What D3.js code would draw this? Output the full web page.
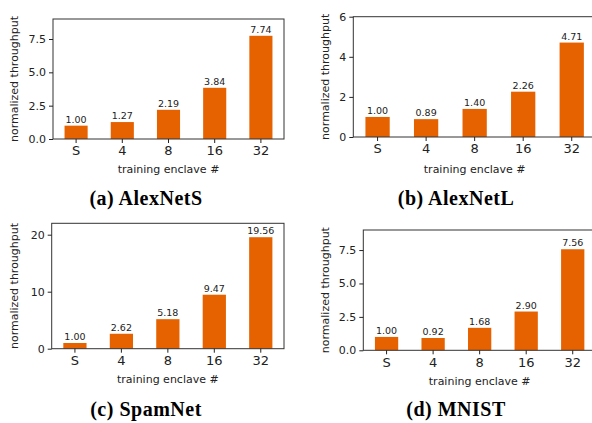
<!DOCTYPE html>
<html>
  <head>
    <meta charset="utf-8">
    <script src="https://unpkg.com/d3@7/dist/d3.min.js"></script>
    <style>
      body {
        margin: 0;
        background: #fff;
      }

      text {
        font-family: 'DejaVu Sans', sans-serif;
        fill: #222;
      }

      .caption {
        font-family: 'Liberation Serif', serif;
        font-weight: bold;
        font-size: 20px;
        letter-spacing: 0.5px;
        text-anchor: middle;
        fill: #000;
      }

      .bar-label {
        font-size: 9.5px;
        text-anchor: middle;
      }

      .axis-label {
        font-size: 11px;
        text-anchor: middle;
      }
    </style>
  </head>
  <body>
    <script>
      const categories = ['S', '4', '8', '16', '32'];

      const alexNetS = [1.00, 1.27, 2.19, 3.84, 7.74];
      const alexNetL = [1.00, 0.89, 1.40, 2.26, 4.71];
      const spamNet = [1.00, 2.62, 5.18, 9.47, 19.56];
      const mnist = [1.00, 0.92, 1.68, 2.90, 7.56];

      const captions = ['(a) AlexNetS', '(b) AlexNetL', '(c) SpamNet', '(d) MNIST'];
      const yTicksA = [0, 2.5, 5, 7.5];
      const yTicksB = [0, 2, 4, 6];
      const yTicksC = [0, 10, 20];
      const yTicksD = [0, 2.5, 5, 7.5];

      const width = 592;
      const height = 423;
      const barColor = '#e66100';

      // layout of each small plot (frame box + y limit)
      const panels = [
        {values: alexNetS, caption: captions[0], ticks: yTicksA, yMax: 9, fmt: '.1f',
          left: 53, right: 284, top: 19, bottom: 139, yLabX: 17.5, xLabDy: 34, capX: 146, capY: 205},
        {values: alexNetL, caption: captions[1], ticks: yTicksB, yMax: 6, fmt: 'd',
          left: 353.3, right: 596, top: 16.7, bottom: 137, yLabX: 328.5, xLabDy: 36, capX: 456, capY: 205},
        {values: spamNet, caption: captions[2], ticks: yTicksC, yMax: 22, fmt: 'd',
          left: 51.7, right: 284, top: 223.3, bottom: 348.7, yLabX: 17.5, xLabDy: 34, capX: 146, capY: 416},
        {values: mnist, caption: captions[3], ticks: yTicksD, yMax: 9, fmt: '.1f',
          left: 363.3, right: 596, top: 230, bottom: 350.3, yLabX: 328.5, xLabDy: 35, capX: 456, capY: 416}
      ];

      const svg = d3.select('body')
        .append('svg')
        .attr('width', width)
        .attr('height', height);

      panels.forEach(p => {
        const x = d3.scaleBand()
          .domain(categories)
          .range([p.left, p.right])
          .paddingInner(0.5)
          .paddingOuter(0.25);

        const y = d3.scaleLinear()
          .domain([0, p.yMax])
          .range([p.bottom, p.top]);

        const g = svg.append('g');

        g.selectAll('rect.bar')
          .data(p.values)
          .enter()
          .append('rect')
          .attr('class', 'bar')
          .attr('x', (d, i) => x(categories[i]))
          .attr('y', d => y(d))
          .attr('width', x.bandwidth())
          .attr('height', d => y(0) - y(d))
          .attr('fill', barColor);

        g.selectAll('text.bar-label')
          .data(p.values)
          .enter()
          .append('text')
          .attr('class', 'bar-label')
          .attr('x', (d, i) => x(categories[i]) + x.bandwidth() / 2)
          .attr('y', d => y(d) - 3)
          .text(d => d.toFixed(2));

        // frame
        g.append('rect')
          .attr('x', p.left)
          .attr('y', p.top)
          .attr('width', p.right - p.left)
          .attr('height', p.bottom - p.top)
          .attr('fill', 'none')
          .attr('stroke', '#333')
          .attr('stroke-width', 1);

        const yAxis = g.append('g')
          .attr('transform', `translate(${p.left},0)`)
          .call(d3.axisLeft(y).tickValues(p.ticks).tickFormat(d3.format(p.fmt)).tickSize(4).tickPadding(3));
        yAxis.select('.domain').remove();
        yAxis.selectAll('text').style('font-size', '11px').attr('fill', '#222');
        yAxis.selectAll('line').attr('stroke', '#222');

        const xAxis = g.append('g')
          .attr('transform', `translate(0,${p.bottom})`)
          .call(d3.axisBottom(x).tickSize(4).tickPadding(3));
        xAxis.select('.domain').remove();
        xAxis.selectAll('text').style('font-size', '13px').attr('fill', '#222');
        xAxis.selectAll('line').attr('stroke', '#222');

        g.append('text')
          .attr('class', 'axis-label')
          .attr('x', (p.left + p.right) / 2)
          .attr('y', p.bottom + p.xLabDy)
          .text('training enclave #');

        g.append('text')
          .attr('class', 'axis-label')
          .attr('transform', `translate(${p.yLabX},${(p.top + p.bottom) / 2}) rotate(-90)`)
          .text('normalized throughput');

        g.append('text')
          .attr('class', 'caption')
          .attr('x', p.capX)
          .attr('y', p.capY)
          .text(p.caption);
      });
    </script>
  </body>
</html>
